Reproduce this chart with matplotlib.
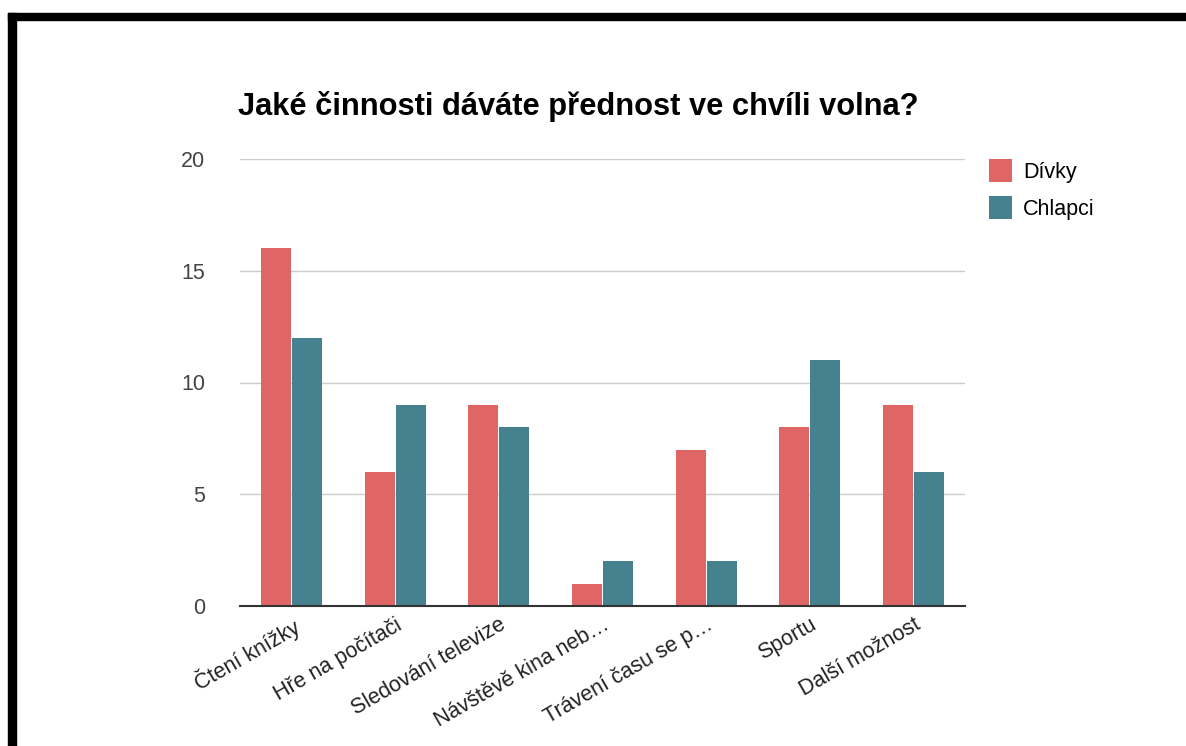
import matplotlib.pyplot as plt
import numpy as np
from matplotlib.patches import Rectangle

categories = ["Čtení knížky", "Hře na počítači", "Sledování televize",
              "Návštěvě kina neb…", "Trávení času se p…", "Sportu", "Další možnost"]
divky = [16, 6, 9, 1, 7, 8, 9]
chlapci = [12, 9, 8, 2, 2, 11, 6]
yticks = [0, 5, 10, 15, 20]

plt.rcParams['font.family'] = ['Liberation Sans', 'DejaVu Sans']

fig = plt.figure(figsize=(11.86, 7.46), dpi=100)
ax = fig.add_axes([240 / 1186, 140 / 746, 725 / 1186, 447 / 746])

x = np.arange(len(categories))
w = 0.29
ax.bar(x - w / 2 - 0.005, divky, w, color='#e06666', label='Dívky', zorder=3)
ax.bar(x + w / 2 + 0.005, chlapci, w, color='#45818e', label='Chlapci', zorder=3)

ax.set_xlim(-0.5, len(categories) - 0.5)
ax.set_ylim(0, 20)
ax.set_yticks(yticks)
ax.set_yticklabels([str(v) for v in yticks], fontsize=15.5, color='#444444')
ax.grid(axis='y', color='#cccccc', linewidth=1, zorder=0)
ax.tick_params(axis='y', length=0, pad=25)
ax.tick_params(axis='x', length=0, pad=6)
ax.set_xticks(x)
ax.set_xticklabels(categories, rotation=30, ha='right', rotation_mode='anchor',
                   fontsize=15.5, color='#222222')
for s in ['top', 'right', 'left']:
    ax.spines[s].set_visible(False)
ax.spines['bottom'].set_color('#333333')
ax.spines['bottom'].set_linewidth(1.5)
ax.spines['bottom'].set_zorder(4)

fig.text(238 / 1186, 1 - 106 / 746, "Jaké činnosti dáváte přednost ve chvíli volna?",
         fontsize=22.2, fontweight='bold', va='center', ha='left', color='#000000')

ax.legend(loc='upper left', bbox_to_anchor=(978 / 1186, 1 - 148 / 746),
          bbox_transform=fig.transFigure, frameon=False, fontsize=15.5,
          borderpad=0, handlelength=1.1, handleheight=1.3, handletextpad=0.5,
          labelspacing=0.6)

# black frame from the screenshot
fig.patches.append(Rectangle((8 / 1186, 0), 8 / 1186, 733 / 746,
                             transform=fig.transFigure, color='black'))
fig.patches.append(Rectangle((8 / 1186, 726 / 746), 1178 / 1186, 7 / 746,
                             transform=fig.transFigure, color='black'))

fig.savefig('out.png', dpi=100)
